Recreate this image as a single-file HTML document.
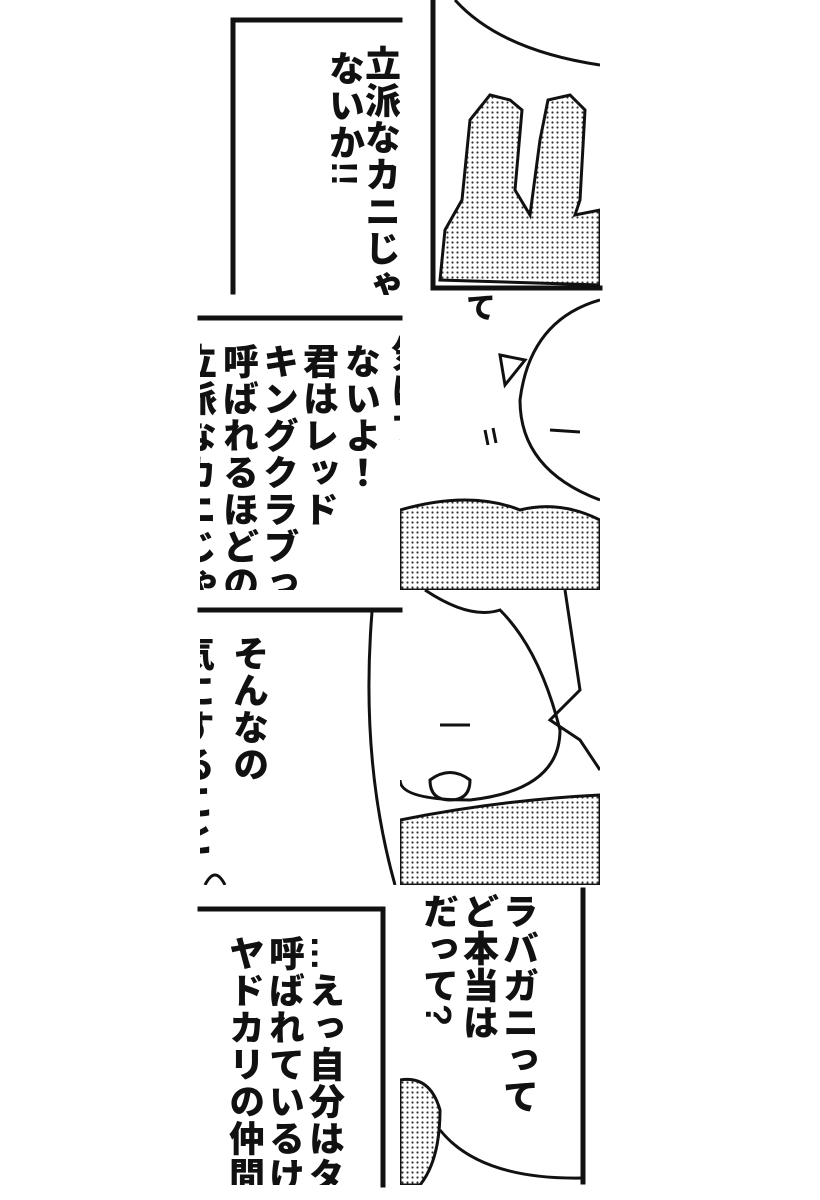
<!DOCTYPE html>
<html><head><meta charset="utf-8">
<style>
html,body{margin:0;padding:0;background:#fff;}
body{width:820px;height:1200px;position:relative;overflow:hidden;}
.t{position:absolute;writing-mode:vertical-rl;font-family:"Liberation Sans","Noto Sans CJK JP",sans-serif;font-weight:900;font-size:36px;line-height:1;color:#111;letter-spacing:1px;white-space:nowrap;}
.clip{position:absolute;overflow:hidden;}
svg{position:absolute;left:0;top:0;}
</style></head><body>
<svg width="820" height="1200" viewBox="0 0 820 1200">
<defs>
<pattern id="dots" width="5" height="5" patternUnits="userSpaceOnUse">
<rect width="5" height="5" fill="#fff"/><circle cx="2.5" cy="2.5" r="1.1" fill="#333"/></pattern>
<clipPath id="r1r"><rect x="400" y="0" width="200" height="295"/></clipPath>
<clipPath id="r2r"><rect x="400" y="295" width="200" height="295"/></clipPath>
<clipPath id="r3r"><rect x="400" y="590" width="200" height="295"/></clipPath>
<clipPath id="r4r"><rect x="400" y="885" width="200" height="300"/></clipPath>
<clipPath id="r3l"><rect x="200" y="590" width="200" height="295"/></clipPath>
</defs>
<g fill="none" stroke="#111" stroke-width="5" stroke-linecap="square">
<polyline points="400,20 233,20 233,292"/>
<polyline points="433,0 433,288 600,288"/>
<line x1="200" y1="318" x2="400" y2="318"/>
<line x1="200" y1="610" x2="400" y2="610"/>
<polyline points="200,909 383,909 383,1185"/>
<line x1="583" y1="890" x2="583" y2="1182"/>
</g>
<g clip-path="url(#r1r)" stroke="#111" stroke-width="3">
<path d="M455,0 Q500,50 600,65" fill="none"/>
<path d="M440,280 L445,230 L462,200 L470,120 L490,95 L510,100 L522,110 L515,190 L530,215 L540,140 L548,100 L570,95 L585,110 L580,200 L575,215 L600,210 L600,285 Z" fill="url(#dots)"/>
</g>
<g clip-path="url(#r2r)" stroke="#111" stroke-width="3" fill="none">
<path d="M600,300 Q530,320 520,400 Q520,470 600,500"/>
<path d="M500,355 L525,360 L505,385 Z" fill="#fff"/>
<path d="M550,430 L580,432"/>
<path d="M485,430 L488,445 M493,428 L496,443"/>
<path d="M400,510 Q470,490 520,510 Q560,500 600,520 L600,590 L400,590 Z" fill="url(#dots)"/>
</g>
<g clip-path="url(#r3r)" stroke="#111" stroke-width="3" fill="none">
<path d="M425,590 Q470,620 500,610 Q540,650 560,730 Q560,790 470,800 Q400,800 400,780"/>
<path d="M565,590 L580,690 L550,720 L580,740 L600,770"/>
<path d="M440,725 L470,725"/>
<path d="M430,780 Q450,765 470,780 Q470,800 450,800 Q430,800 430,780 Z"/>
<path d="M400,820 Q500,800 600,795 L600,885 L400,885 Z" fill="url(#dots)"/>
</g>
<g clip-path="url(#r3l)" stroke="#111" stroke-width="3" fill="none">
<path d="M372,612 Q360,760 395,885"/>
<path d="M205,885 Q215,865 225,885"/>
</g>
<g clip-path="url(#r4r)" stroke="#111" stroke-width="3" fill="none">
<path d="M400,1080 Q430,1075 440,1110 Q440,1160 420,1185 L400,1185 Z" fill="url(#dots)"/>
<path d="M440,1130 Q480,1180 583,1178"/>
</g>
</svg>

<div class="clip" style="left:200px;top:0;width:200px;height:295px">
<div class="t" style="left:162px;top:45px">立派なカニじゃ</div>
<div class="t" style="left:126px;top:50px">ないか!!</div>
</div>
<div class="t" style="left:462px;top:292px;font-size:30px">て</div>
<div class="clip" style="left:200px;top:295px;width:200px;height:295px">
<div class="t" style="left:188px;top:40px">気にす</div>
<div class="t" style="left:142px;top:48px">ないよ！</div>
<div class="t" style="left:100px;top:48px">君はレッド</div>
<div class="t" style="left:60px;top:48px">キングクラブっ</div>
<div class="t" style="left:20px;top:48px">呼ばれるほどの</div>
<div class="t" style="left:-22px;top:48px">立派なカニじゃ</div>
</div>
<div class="clip" style="left:200px;top:590px;width:200px;height:295px">
<div class="t" style="left:30px;top:45px">そんなの</div>
<div class="t" style="left:-24px;top:45px">気にすること</div>
</div>
<div class="clip" style="left:200px;top:885px;width:200px;height:300px">
<div class="t" style="left:106px;top:50px">…えっ自分はタ</div>
<div class="t" style="left:66px;top:50px">呼ばれているけ</div>
<div class="t" style="left:26px;top:50px">ヤドカリの仲間</div>
</div>
<div class="clip" style="left:400px;top:885px;width:200px;height:300px">
<div class="t" style="left:100px;top:8px">ラバガニって</div>
<div class="t" style="left:60px;top:8px">ど本当は</div>
<div class="t" style="left:20px;top:8px">だって?</div>
</div>
</body></html>
